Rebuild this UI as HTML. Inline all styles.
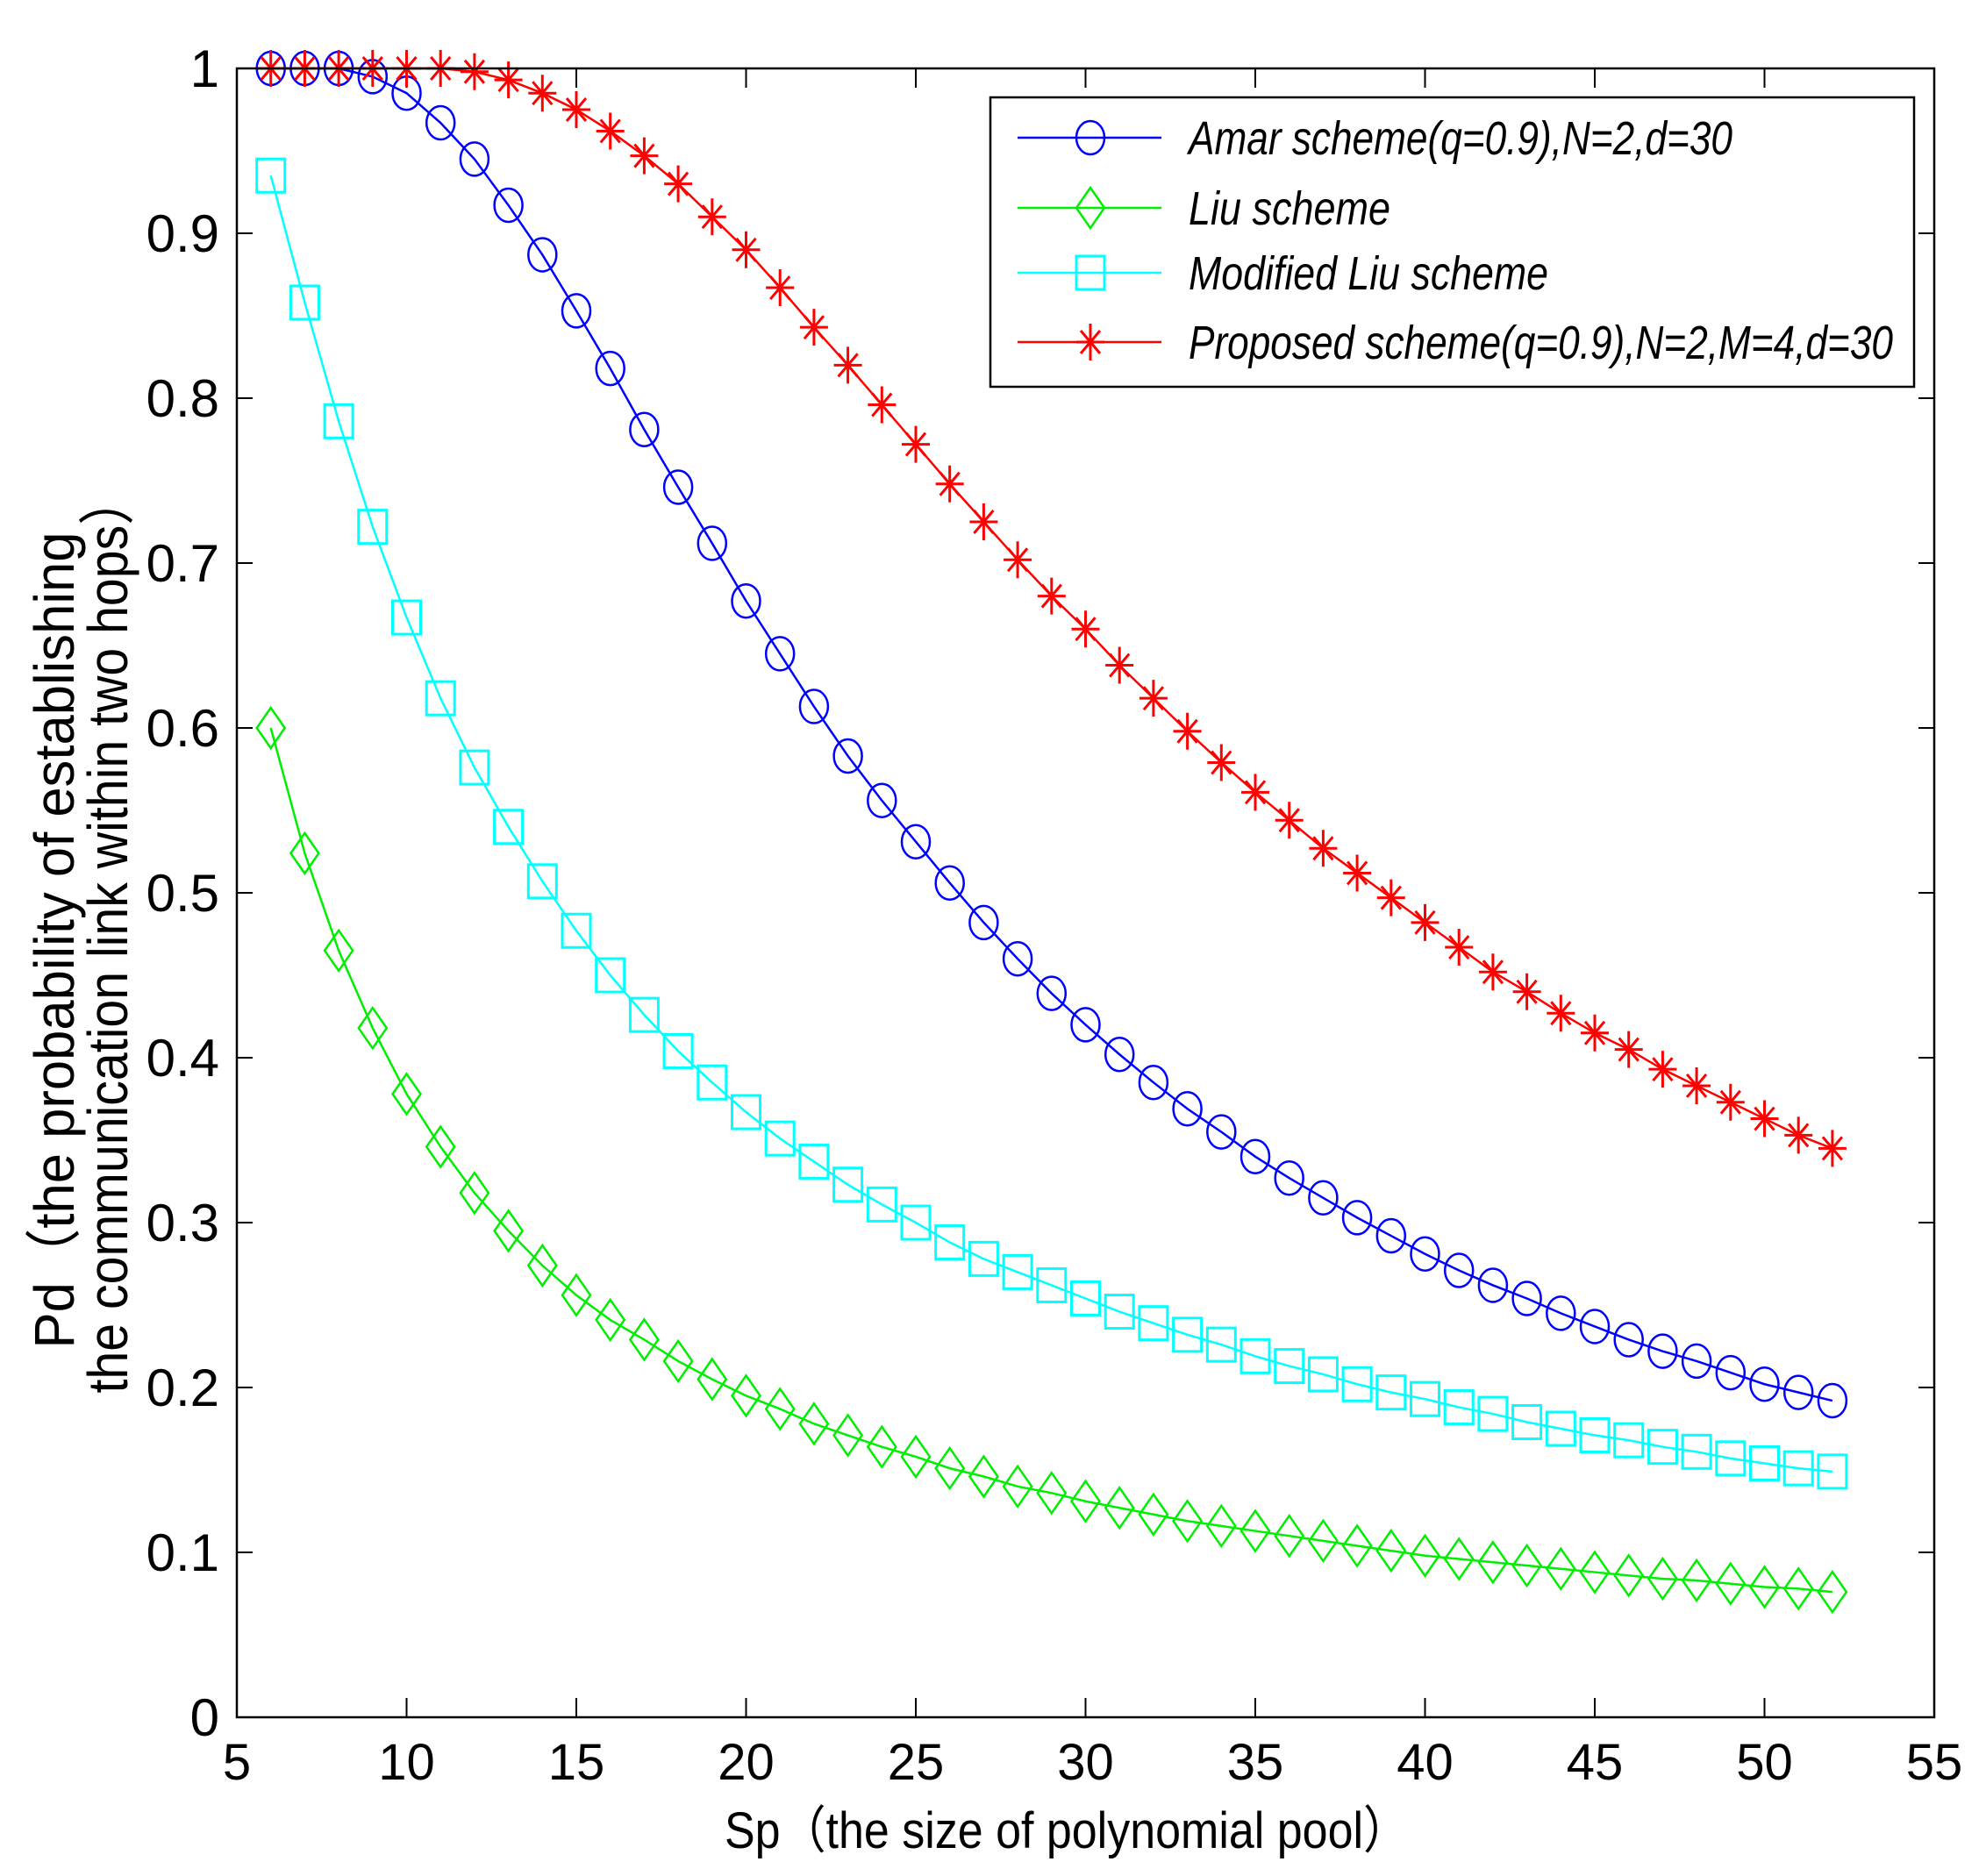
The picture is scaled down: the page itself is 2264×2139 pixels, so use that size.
<!DOCTYPE html>
<html><head><meta charset="utf-8"><style>
html,body{margin:0;padding:0;background:#fff;}
svg{display:block;font-family:"Liberation Sans","Noto Sans CJK SC",sans-serif;}
</style></head><body>
<svg id="chart" width="2264" height="2139" viewBox="0 0 2264 2139" xmlns="http://www.w3.org/2000/svg">
<rect x="0" y="0" width="2264" height="2139" fill="#fff"/>
<g id="grid-ticks"></g>
<g id="series"></g>
<rect x="270" y="78" width="1935" height="1880" fill="none" stroke="#000" stroke-width="2.5"/>
<g id="labels"></g>
<text x="0" y="0" transform="translate(84,1072) rotate(-90)" text-anchor="middle" font-size="64" textLength="931" lengthAdjust="spacingAndGlyphs">Pd（the probability of establishing</text>
<text x="0" y="0" transform="translate(145,1065) rotate(-90)" text-anchor="middle" font-size="64" textLength="1047" lengthAdjust="spacingAndGlyphs">the communication link within two hops）</text>
<text x="826" y="2107" font-size="58" textLength="780" lengthAdjust="spacingAndGlyphs">Sp（the size of polynomial pool）</text>
<g>
<rect x="1129" y="111" width="1053" height="330" fill="#fff" stroke="#000" stroke-width="2.5"/>
<g id="legend-items"></g>
</g>
</svg>
<script>
const xValues = [6,7,8,9,10,11,12,13,14,15,16,17,18,19,20,21,22,23,24,25,26,27,28,29,30,31,32,33,34,35,36,37,38,39,40,41,42,43,44,45,46,47,48,49,50,51,52];
const amarValues = [1,1,1,0.995,0.985,0.967,0.945,0.917,0.887,0.853,0.818,0.781,0.746,0.712,0.677,0.645,0.613,0.583,0.556,0.531,0.506,0.482,0.460,0.439,0.420,0.402,0.385,0.369,0.355,0.340,0.327,0.315,0.303,0.292,0.281,0.271,0.262,0.254,0.245,0.237,0.229,0.222,0.216,0.209,0.202,0.197,0.192];
const liuValues = [0.600,0.524,0.465,0.418,0.378,0.346,0.318,0.295,0.274,0.256,0.241,0.229,0.216,0.205,0.195,0.187,0.178,0.171,0.164,0.158,0.151,0.146,0.140,0.136,0.131,0.127,0.123,0.119,0.116,0.113,0.110,0.107,0.104,0.101,0.098,0.096,0.094,0.092,0.090,0.088,0.086,0.084,0.083,0.081,0.079,0.078,0.076];
const modLiuValues = [0.935,0.858,0.786,0.722,0.667,0.618,0.576,0.540,0.507,0.477,0.450,0.426,0.404,0.385,0.367,0.351,0.337,0.323,0.311,0.300,0.288,0.278,0.270,0.262,0.254,0.246,0.239,0.232,0.226,0.219,0.213,0.208,0.202,0.197,0.193,0.188,0.184,0.179,0.175,0.171,0.168,0.164,0.161,0.157,0.154,0.151,0.149];
const proposedValues = [1,1,1,1,1,1,0.998,0.993,0.985,0.975,0.962,0.947,0.930,0.910,0.890,0.867,0.843,0.820,0.796,0.772,0.748,0.725,0.702,0.680,0.660,0.638,0.618,0.598,0.579,0.561,0.544,0.527,0.512,0.497,0.482,0.467,0.452,0.440,0.427,0.415,0.405,0.393,0.383,0.373,0.363,0.353,0.345];
const xTicks = [5,10,15,20,25,30,35,40,45,50,55];
const yTicks = [0,0.1,0.2,0.3,0.4,0.5,0.6,0.7,0.8,0.9,1];
const yTickLabels = ["0","0.1","0.2","0.3","0.4","0.5","0.6","0.7","0.8","0.9","1"];
const seriesNames = ["Amar scheme(q=0.9),N=2,d=30","Liu scheme","Modified Liu scheme","Proposed scheme(q=0.9),N=2,M=4,d=30"];

const NS="http://www.w3.org/2000/svg";
const X0=270,X1=2205,Y0=1958,Y1=78;
function sx(v){return X0+(v-5)/(55-5)*(X1-X0);}
function sy(v){return Y0-(v-0)/(1-0)*(Y0-Y1);}
function mk(tag,attrs,parent){const e=document.createElementNS(NS,tag);for(const k in attrs)e.setAttribute(k,attrs[k]);parent.appendChild(e);return e;}

const tg=document.getElementById('grid-ticks');
const lg=document.getElementById('labels');
xTicks.forEach((t,i)=>{
  const x=sx(t);
  let l=mk('line',{x1:x,y1:Y0,x2:x,y2:Y0-22,stroke:'#000','stroke-width':2},tg);
  
  
  l=mk('line',{x1:x,y1:Y1,x2:x,y2:Y1+22,stroke:'#000','stroke-width':2},tg);
  
  
  const tx=mk('text',{x:x,y:2029,'font-size':58,'text-anchor':'middle'},lg);
  tx.textContent=String(t);
  
  
});
yTicks.forEach((t,i)=>{
  const y=sy(t);
  let l=mk('line',{x1:X0,y1:y,x2:X0+18,y2:y,stroke:'#000','stroke-width':2},tg);
  
  
  l=mk('line',{x1:X1,y1:y,x2:X1-18,y2:y,stroke:'#000','stroke-width':2},tg);
  
  
  const tx=mk('text',{x:250,y:y+21,'font-size':60,'text-anchor':'end'},lg);
  tx.textContent=yTickLabels[i];
  
  
});

function marker(type,cx,cy,color,parent){
  let e;
  if(type==='circle'){e=mk('ellipse',{cx:cx,cy:cy,rx:16,ry:19,fill:'none',stroke:color,'stroke-width':2.5},parent);}
  else if(type==='diamond'){e=mk('polygon',{points:`${cx},${cy-23} ${cx+16},${cy} ${cx},${cy+23} ${cx-16},${cy}`,fill:'none',stroke:color,'stroke-width':2.5},parent);}
  else if(type==='square'){e=mk('rect',{x:cx-16,y:cy-19,width:32,height:38,fill:'none',stroke:color,'stroke-width':3},parent);}
  else {e=mk('path',{d:`M${cx-16},${cy}H${cx+16}M${cx},${cy-21}V${cy+21}M${cx-11},${cy-13}L${cx+11},${cy+13}M${cx-11},${cy+13}L${cx+11},${cy-13}`,fill:'none',stroke:color,'stroke-width':3},parent);}
  return e;
}
const defs=[
 {vals:amarValues,color:'#0000ff',m:'circle',n:'amar'},
 {vals:liuValues,color:'#00ee00',m:'diamond',n:'liu'},
 {vals:modLiuValues,color:'#00ffff',m:'square',n:'modified-liu'},
 {vals:proposedValues,color:'#ff0000',m:'star',n:'proposed'}
];
const sg=document.getElementById('series');
defs.forEach(d=>{
  const g=mk('g',{},sg);
  
  
  const pts=xValues.map((x,i)=>sx(x)+','+sy(d.vals[i])).join(' ');
  const pl=mk('polyline',{points:pts,fill:'none',stroke:d.color,'stroke-width':2.5},g);
  
  
  xValues.forEach((x,i)=>{
    const e=marker(d.m,sx(x),sy(d.vals[i]),d.color,g);
    
    
  });
});
const li=document.getElementById('legend-items');
const rowY=[157,237,311,390];
defs.forEach((d,i)=>{
  const g=mk('g',{},li);
  
  
  const l=mk('line',{x1:1160,y1:rowY[i],x2:1324,y2:rowY[i],stroke:d.color,'stroke-width':2.5},g);
  
  
  const m=marker(d.m,1243,rowY[i],d.color,g);
  
  
  const widths=[620,230,410,803];
  const t=mk('text',{x:1355,y:rowY[i]+19,'font-size':54,'font-style':'italic',textLength:widths[i],lengthAdjust:'spacingAndGlyphs'},g);
  t.textContent=seriesNames[i];
  
  
});
</script>
</body></html>
